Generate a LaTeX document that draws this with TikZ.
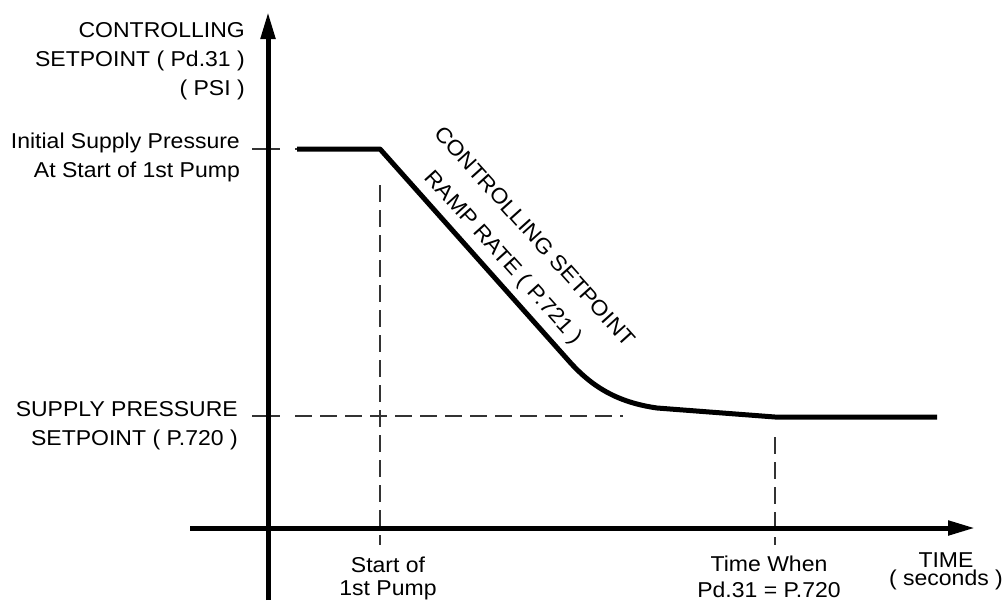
\documentclass[tikz,border=0pt]{standalone}
\usepackage{fontspec}
\setmainfont{Liberation Sans}[FakeStretch=1.07]
\usetikzlibrary{arrows.meta}
\begin{document}
\begin{tikzpicture}[x=1pt,y=-1pt,
  axisline/.style={line width=5pt,-{Triangle[length=27pt,width=14pt]}},
  guide/.style={line width=1.8pt,dash pattern=on 17pt off 8pt,black!80},
  tickline/.style={line width=1.8pt,black!80},
  setcurve/.style={line width=5pt,line join=round},
  lbl/.style={font=\fontsize{21.5}{29}\selectfont,inner sep=0pt},
]
\useasboundingbox (0,0) rectangle (1008,600);
% axes
\coordinate (ybot) at (268,600);
\coordinate (ytop) at (268,12);
\coordinate (xleft) at (190,528);
\coordinate (xright) at (975,528);
% guide points
\coordinate (t1a) at (252,149);
\coordinate (t1b) at (280,149);
\coordinate (t2a) at (252,416);
\coordinate (t2b) at (280,416);
\coordinate (g1a) at (295,149);
\coordinate (g2a) at (295,416);
\coordinate (g2b) at (623,416);
\coordinate (v1a) at (380,185);
\coordinate (v1b) at (380,545);
\coordinate (v2a) at (775,437);
\coordinate (v2b) at (775,545);
% setpoint curve
\coordinate (p0) at (297,149);
\coordinate (p1) at (380,149);
\coordinate (r1) at (568,360);
\coordinate (r2) at (657,408);
\coordinate (r3) at (775,417);
\coordinate (r4) at (937,417);

\draw[guide] (g1a) -- (p1);
\draw[guide] (g2a) -- (g2b);
\draw[guide] (v1a) -- (v1b);
\draw[guide] (v2a) -- (v2b);
\draw[tickline] (t1a) -- (t1b);
\draw[tickline] (t2a) -- (t2b);

\draw[axisline] (ybot) -- (ytop);
\draw[axisline] (xleft) -- (xright);

\draw[setcurve] (p0) -- (p1) -- (r1) .. controls (590,385) and (615,402) .. (r2) -- (r3) -- (r4);

% labels (anchor = baseline of last line)
\node[lbl,align=right,anchor=base east] (ylab) at (245,95) {CONTROLLING\\SETPOINT ( Pd.31 )\\( PSI )};
\node[lbl,align=right,anchor=base east] (init) at (240,177) {Initial Supply Pressure\\At Start of 1st Pump};
\node[lbl,align=right,anchor=base east] (supply) at (238,445) {SUPPLY PRESSURE\\SETPOINT ( P.720 )};
\node[lbl,font=\fontsize{21.5}{23}\selectfont,align=center,anchor=base] (start) at (388,595) {Start of\\1st Pump};
\node[lbl,font=\fontsize{21.5}{26}\selectfont,align=center,anchor=base] (when) at (769,597) {Time When\\Pd.31 = P.720};
\node[lbl,font=\fontsize{21.5}{18}\selectfont,align=center,anchor=base] (time) at (946,585) {TIME\\( seconds )};
\node[lbl,rotate=-48] (ramp1) at (535,236) {CONTROLLING SETPOINT};
\node[lbl,rotate=-48] (ramp2) at (503,258) {RAMP RATE ( P.721 )};
\end{tikzpicture}
\end{document}
